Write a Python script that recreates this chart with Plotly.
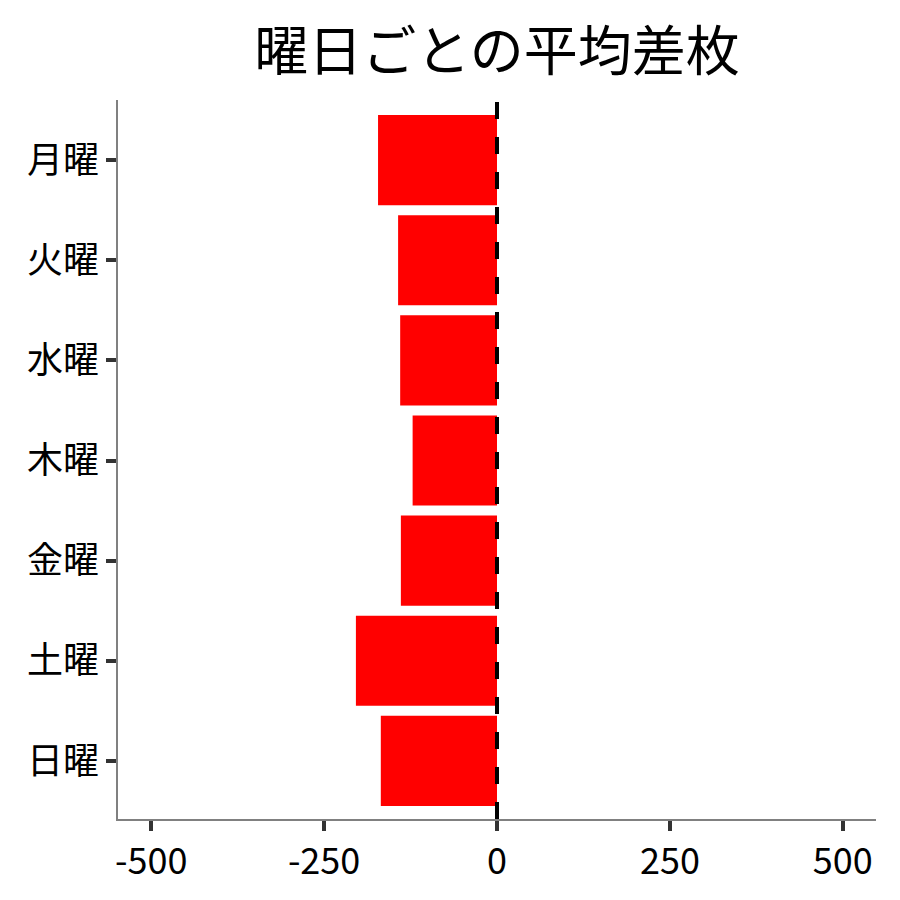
import plotly.graph_objects as go

# 曜日ごとの平均差枚
days = ["月曜", "火曜", "水曜", "木曜", "金曜", "土曜", "日曜"]
avg_diff = [-172, -143, -140, -122, -139, -204, -168]
x_ticks = [-500, -250, 0, 250, 500]

FONT = "Noto Sans CJK JP"

fig = go.Figure()
fig.add_trace(go.Bar(
    x=avg_diff,
    y=days,
    orientation="h",
    marker=dict(color="#ff0000", line=dict(width=0)),
    showlegend=False,
))

# 0の位置に破線
fig.add_vline(x=0, line=dict(color="black", width=4, dash="17px,18px"))

fig.update_layout(
    title=dict(text="曜日ごとの平均差枚", xref="paper", x=0.5, xanchor="center",
               y=0.951, yanchor="middle",
               font=dict(family=FONT, size=54, color="black")),
    width=900, height=900,
    margin=dict(l=110, r=32, t=92, b=89),
    plot_bgcolor="white",
    paper_bgcolor="white",
    bargap=0.1,
    font=dict(family=FONT, color="black"),
)

fig.update_xaxes(
    range=[-548, 548],
    tickvals=x_ticks,
    ticktext=[str(v) for v in x_ticks],
    showgrid=False, zeroline=False,
    showline=True, linecolor="#808080", linewidth=1.5,
    ticks="outside", ticklen=10, tickwidth=4, tickcolor="#333333",
    tickfont=dict(family=FONT, size=36, color="black"),
)
fig.update_yaxes(
    categoryorder="array", categoryarray=days,
    autorange=False, range=[6.58, -0.6],
    showgrid=False, zeroline=False,
    showline=True, linecolor="#808080", linewidth=1.5,
    ticks="outside", ticklen=10, tickwidth=4, tickcolor="#333333",
    tickfont=dict(family=FONT, size=36, color="black"),
)

fig.write_html("out.html")
